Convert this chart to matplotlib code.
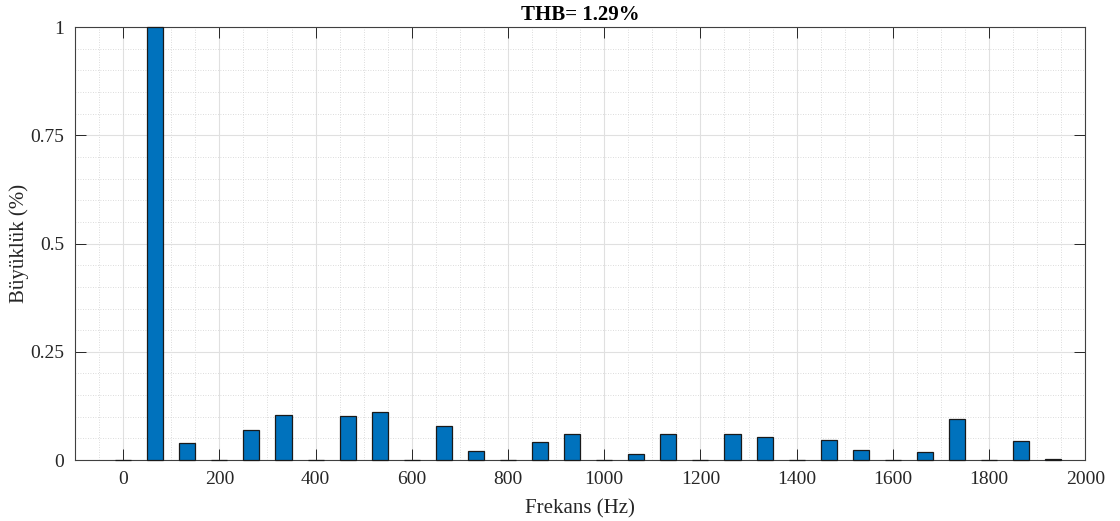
import numpy as np
import matplotlib.pyplot as plt
from matplotlib.ticker import MultipleLocator

plt.rcParams['font.family'] = ['Liberation Serif', 'DejaVu Serif']

# harmonic orders and their magnitudes
fundamental = 2000 / 30
orders = np.arange(0, 30)
magnitude = [0.0, 1.0, 0.040, 0.0, 0.069, 0.103, 0.0, 0.102, 0.110, 0.0,
             0.079, 0.0215, 0.0, 0.042, 0.061, 0.0, 0.0146, 0.061, 0.0, 0.060,
             0.053, 0.0, 0.0455, 0.024, 0.0, 0.0185, 0.094, 0.0, 0.044, 0.0023]
thd_text = "THB= 1.29%"

freqs = orders * fundamental

fig = plt.figure(figsize=(11.2, 5.21), dpi=100)
ax = fig.add_axes([0.067, 0.117, 0.902, 0.831])

ax.bar(freqs, magnitude, width=fundamental * 0.5, color='#0072BD',
       edgecolor='#1a1a1a', linewidth=0.9, zorder=3, clip_on=False)

ax.set_xlim(-100, 2000)
ax.set_ylim(0, 1)
ax.xaxis.set_major_locator(MultipleLocator(200))
ax.xaxis.set_minor_locator(MultipleLocator(50))
ax.set_yticks([0, 0.25, 0.5, 0.75, 1])
ax.set_yticklabels(['0', '0.25', '0.5', '0.75', '1'])
ax.yaxis.set_minor_locator(MultipleLocator(0.05))

ax.grid(which='major', color='#e0e0e0', linewidth=0.8, zorder=0)
ax.grid(which='minor', color='#d0d0d0', linestyle=(0, (1, 2)), linewidth=0.6, zorder=0)
ax.set_axisbelow(True)

ax.tick_params(which='major', direction='in', length=8, width=0.7,
               top=True, right=True, labelsize=14, colors='#262626', pad=8)
ax.tick_params(which='minor', length=0)
for s in ax.spines.values():
    s.set_color('#404040')
    s.set_linewidth(0.8)

ax.set_xlabel('Frekans (Hz)', fontsize=15, color='#262626', labelpad=8)
ax.set_ylabel('Büyüklük (%)', fontsize=15, color='#262626')
ax.yaxis.set_label_coords(-0.0455, 0.5)
ax.set_title(thd_text, fontsize=15, fontweight='bold', pad=5)

fig.savefig('out.png', dpi=100)
